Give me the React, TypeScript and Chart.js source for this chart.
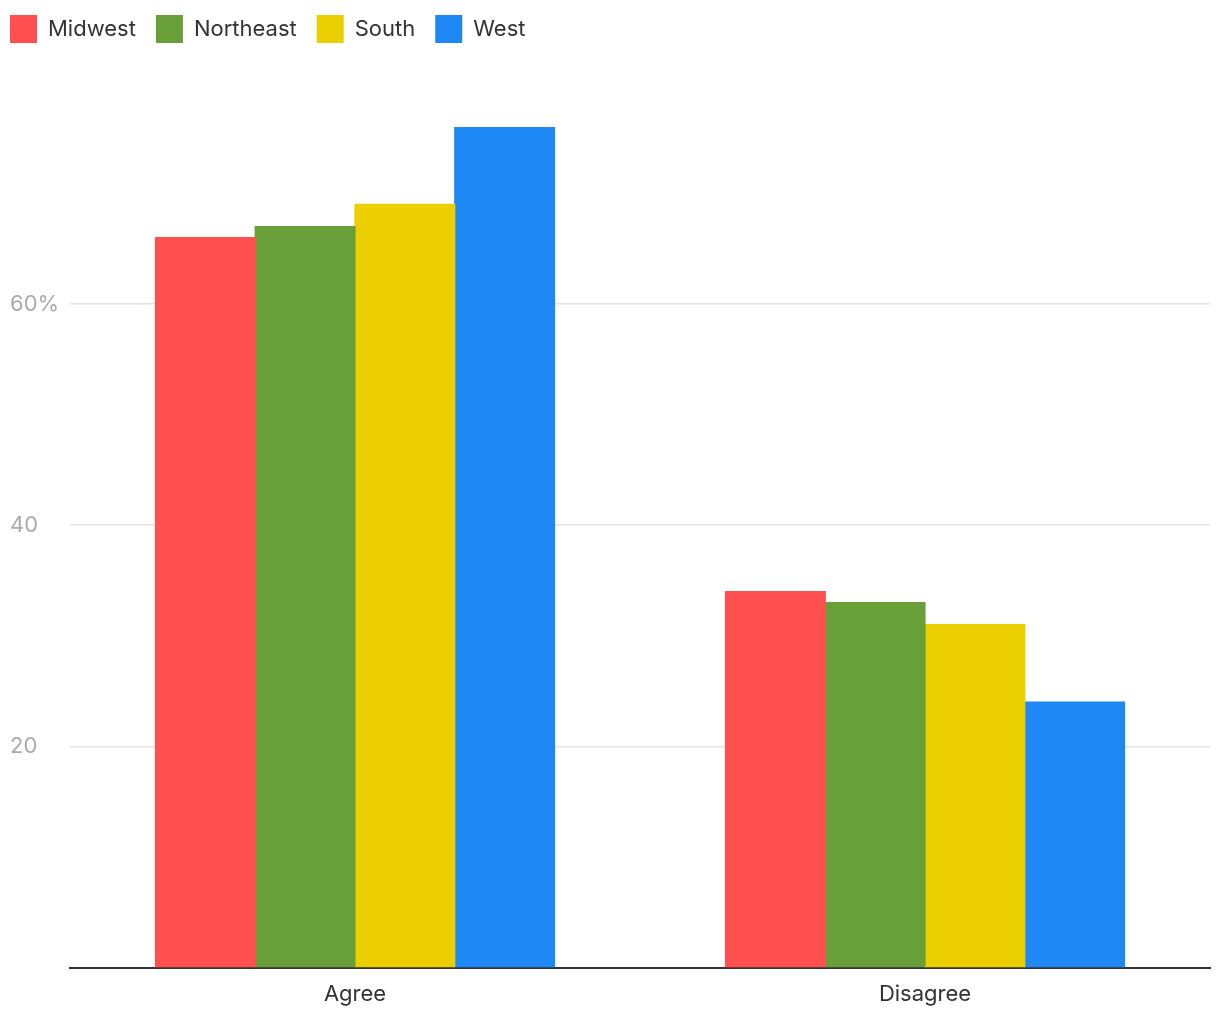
import React, { useEffect, useRef } from "react";
import { Chart, registerables } from "chart.js";

Chart.register(...registerables);

const categories = ["Agree", "Disagree"];
const seriesNames = ["Midwest", "Northeast", "South", "West"];
const midwest = [66, 34];
const northeast = [67, 33];
const south = [69, 31];
const west = [76, 24];
const colors = ["#FF4F4F", "#689F38", "#EBCF00", "#1E88F5"];
const yTicks = [20, 40, 60];

const legendTweak = {
  id: "legendTweak",
  beforeInit(chart: any) {
    const lg = chart.legend;
    if (!lg) return;
    const origFit = lg.fit;
    lg.fit = function () {
      origFit.call(this);
      this.height += 69;
    };
    const origDraw = lg.draw;
    lg.draw = function () {
      const ctx = this.ctx;
      ctx.save();
      ctx.translate(-20, -5);
      origDraw.call(this);
      ctx.restore();
    };
  },
};

export default function App() {
  const ref = useRef<HTMLCanvasElement | null>(null);
  useEffect(() => {
    document.body.style.margin = "0";
    const values = [midwest, northeast, south, west];
    const chart = new Chart(ref.current!, {
      type: "bar",
      data: {
        labels: categories,
        datasets: seriesNames.map((n, i) => ({
          label: n,
          data: values[i],
          backgroundColor: colors[i],
          borderWidth: 0,
          inflateAmount: 0.6,
          categoryPercentage: 0.7,
          barPercentage: 1.0,
        })),
      },
      plugins: [legendTweak],
      options: {
        animation: false,
        responsive: false,
        devicePixelRatio: 1,
        layout: { padding: { left: 10, right: 10, top: 0, bottom: -2 } },
        plugins: {
          tooltip: { enabled: false },
          legend: {
            position: "top",
            align: "start",
            labels: {
              boxWidth: 27,
              boxHeight: 28,
              padding: 20,
              color: "#333",
              font: { family: "Inter", size: 22 },
            },
          },
        },
        scales: {
          x: {
            grid: { display: false, drawTicks: false },
            border: { display: true, color: "#333", width: 2 },
            ticks: {
              color: "#333",
              padding: 14,
              font: { family: "Inter", size: 22 },
            },
          },
          y: {
            min: 0,
            max: 76,
            afterFit: (s: any) => {
              s.width = 60;
            },
            afterBuildTicks: (s: any) => {
              s.ticks = [0, ...yTicks].map((v) => ({ value: v }));
            },
            grid: { color: "#e3e3e3", lineWidth: 1.5, drawTicks: false },
            border: { display: false },
            ticks: {
              crossAlign: "far",
              padding: 0,
              color: "#aaaaaa",
              font: { family: "Inter", size: 22 },
              callback: (v: any) => (v === 0 ? "" : v === 60 ? "60%" : String(v)),
            },
          },
        },
      },
    });
    return () => chart.destroy();
  }, []);
  return (
    <div style={{ position: "absolute", left: 0, top: 0, width: 1220, height: 1020 }}>
      <canvas ref={ref} width={1220} height={1020} style={{ width: 1220, height: 1020 }} />
    </div>
  );
}
